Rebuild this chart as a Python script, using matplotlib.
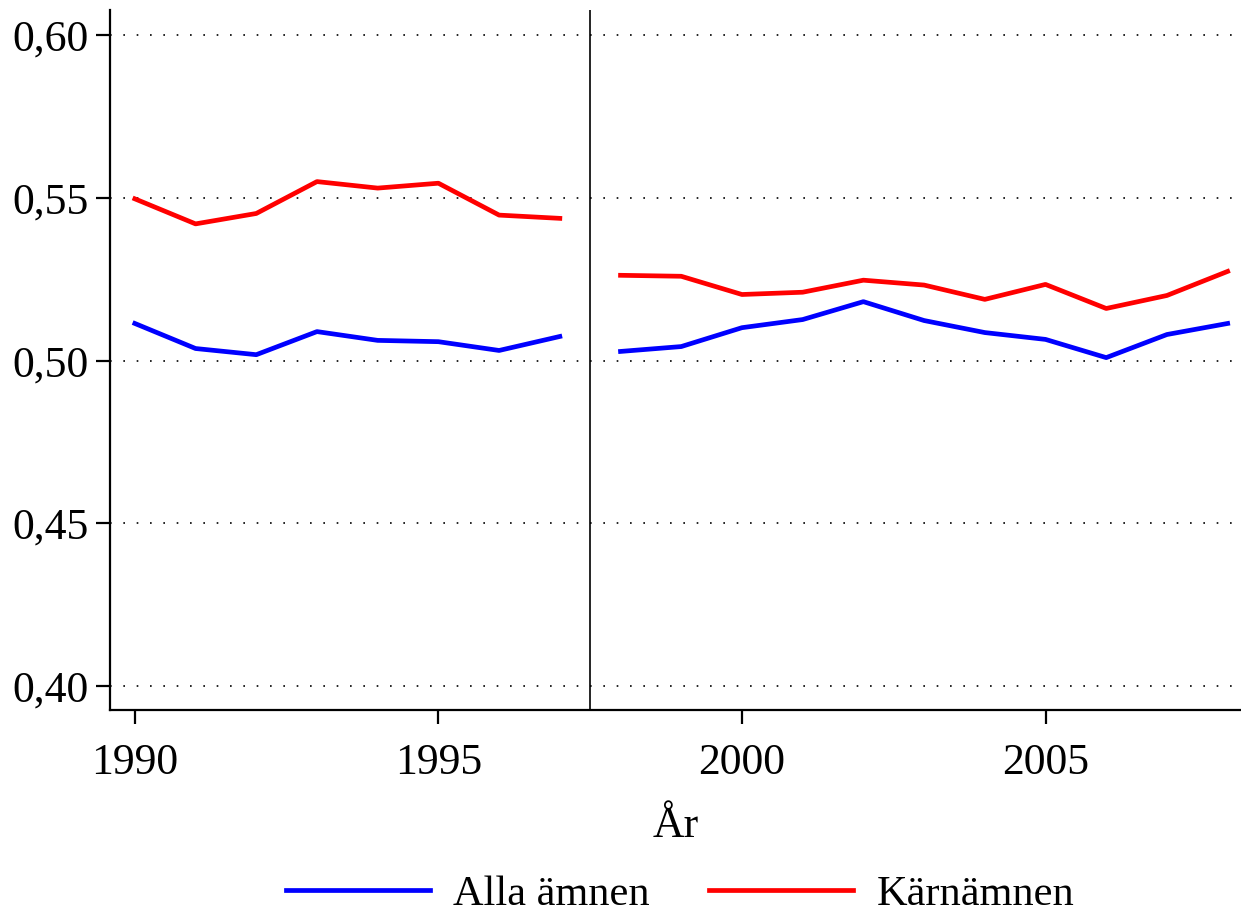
import matplotlib.pyplot as plt
import numpy as np

plt.rcParams['font.family'] = ['Liberation Serif', 'DejaVu Serif']

years_a = [1990, 1991, 1992, 1993, 1994, 1995, 1996, 1997]
years_b = [1998, 1999, 2000, 2001, 2002, 2003, 2004, 2005, 2006, 2007, 2008]

alla_a = [0.5114, 0.5037, 0.5018, 0.5089, 0.5062, 0.5058, 0.5031, 0.5074]
alla_b = [0.5028, 0.5043, 0.5101, 0.5126, 0.5181, 0.5123, 0.5086, 0.5065,
          0.5009, 0.5080, 0.5114]
karn_a = [0.5497, 0.5420, 0.5452, 0.5550, 0.5530, 0.5545, 0.5447, 0.5437]
karn_b = [0.5262, 0.5259, 0.5203, 0.5210, 0.5247, 0.5232, 0.5188, 0.5234,
          0.5160, 0.5200, 0.5274]

yticks = [0.40, 0.45, 0.50, 0.55, 0.60]
xticks = [1990, 1995, 2000, 2005]

fig = plt.figure(figsize=(12.41, 9.19), dpi=100)
ax = fig.add_axes([0.0886, 0.2274, 0.9114, 0.7616])

blue = '#0000ff'
red = '#ff0000'
ax.plot(years_a, alla_a, color=blue, lw=3.4, label='Alla ämnen')
ax.plot(years_b, alla_b, color=blue, lw=3.4)
ax.plot(years_a, karn_a, color=red, lw=3.4, label='Kärnämnen')
ax.plot(years_b, karn_b, color=red, lw=3.4)

ax.axvline(1997.5, color='black', lw=1.2)

ax.set_xlim(1989.59, 2008.22)
ax.set_ylim(0.3926, 0.6077)
ax.set_yticks(yticks)
ax.set_yticklabels(['{:.2f}'.format(v).replace('.', ',') for v in yticks])
ax.set_xticks(xticks)
ax.yaxis.grid(True, color='black', linestyle=(0, (1, 7)), lw=1.2)
ax.set_axisbelow(True)

for s in ['top', 'right']:
    ax.spines[s].set_visible(False)
for s in ['left', 'bottom']:
    ax.spines[s].set_linewidth(1.6)
ax.tick_params(axis='both', labelsize=31.5, width=1.6, length=10, direction='out')
ax.tick_params(axis='y', pad=5)
ax.tick_params(axis='x', pad=14)

ax.set_xlabel('År', fontsize=31.5, labelpad=16)

fig.legend(loc='lower center', bbox_to_anchor=(0.548, -0.036), ncol=2,
           frameon=False, fontsize=30.5, handlelength=3.4, columnspacing=1.4,
           handletextpad=0.55)

fig.savefig('out.png', dpi=100)
